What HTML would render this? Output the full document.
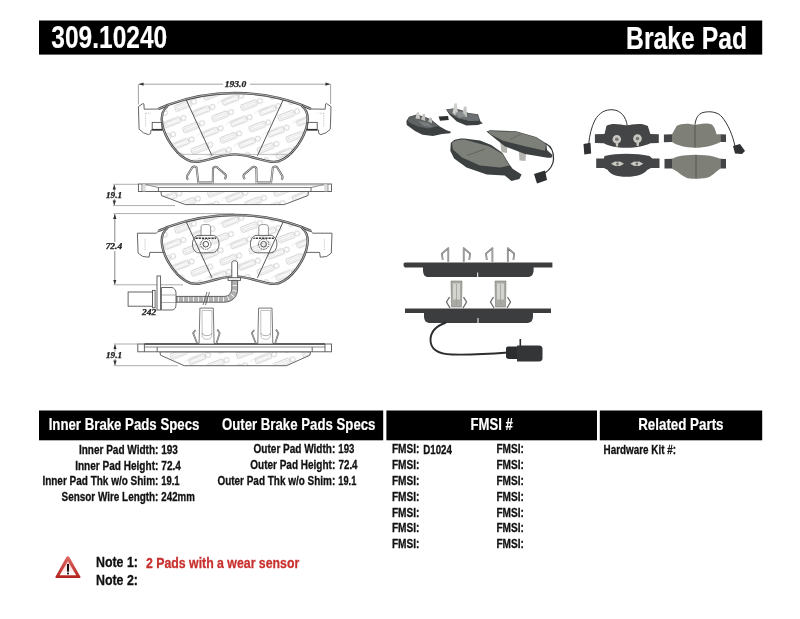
<!DOCTYPE html>
<html><head><meta charset="utf-8"><style>
html,body{margin:0;padding:0;background:#fff;width:800px;height:619px;overflow:hidden}
svg{display:block;will-change:transform}
</style></head><body>
<svg width="800" height="619" viewBox="0 0 800 619">
<rect x="39" y="20.5" width="723.2" height="34.1" fill="#000"/>
<rect x="39" y="410.5" width="344.2" height="29.8" fill="#000"/>
<rect x="386.4" y="410.5" width="210.6" height="29.8" fill="#000"/>
<rect x="599.8" y="410.5" width="162.4" height="29.8" fill="#000"/>
<defs>
<pattern id="tex" patternUnits="userSpaceOnUse" width="31" height="23" patternTransform="rotate(-21)">
<g id="logo" fill="none" stroke="#c8c8c8" stroke-width="0.85">
<rect x="0.6" y="0.6" width="16.5" height="5.6" rx="0.8"/><rect x="2.6" y="2.3" width="12.5" height="2.2" stroke="#d4d4d4" stroke-width="0.55"/>
<circle cx="20.5" cy="3.4" r="2.5"/>
<path d="M11,13.5 c2,-1.3 4,-2 5.2,-0.7 c1.3,1.3 3.3,0 4.6,-1 M21,13 l5,-1" stroke="#dedede" stroke-width="0.6"/>
</g>
<use href="#logo" x="15.5" y="11.5"/><use href="#logo" x="-15.5" y="11.5"/>
</pattern>
<marker id="ar" viewBox="0 0 6 6" refX="5.5" refY="3" markerWidth="5" markerHeight="5" orient="auto-start-reverse" markerUnits="userSpaceOnUse"><path d="M0,1 L6,3 L0,5 z" fill="#333"/></marker>
</defs>
<g fill="none" stroke="#8a8a8a" stroke-width="0.8">
<line x1="139" y1="84.2" x2="223" y2="84.2" marker-start="url(#ar)"/>
<line x1="250" y1="84.2" x2="330" y2="84.2" marker-end="url(#ar)"/>
<line x1="138.4" y1="84.2" x2="138.4" y2="104.5"/>
<line x1="330.6" y1="84.2" x2="330.6" y2="104"/>
</g>
<g transform="translate(0,0)"><path d="M167.9,105.6 C184,99.4 205,93 234.7,93 C264.4,93 285.4,99.4 301.5,105.6 C307.4,110 308.4,118 307,124.8 C305.4,134 298.4,146 291.9,152.3 C287.4,157 281.4,161.5 274.1,161.9 C267.4,162 259.4,159 253.4,157.5 C247.4,156 241.4,154.4 234.7,154.4 C228,154.4 222,156 216,157.5 C210,159 202,162 195.3,161.9 C188,161.5 182,157 177.5,152.3 C171,146 164,134 162.4,124.8 C161,118 162,110 167.9,105.6 Z" fill="url(#tex)"/><path d="M158.2,109 C162,107.5 164.5,106.3 167.9,104.9 C184,99 205,93 234.7,93 C264.4,93 285.4,99 301.5,104.9 C304.9,106.3 307.4,107.5 311.2,109" fill="none" stroke="#4a4a4a" stroke-width="2.4"/><path d="M158.2,109 C162,107.5 164.5,106.3 167.9,104.9 C184,99 205,93 234.7,93 C264.4,93 285.4,99 301.5,104.9 C304.9,106.3 307.4,107.5 311.2,109" fill="none" stroke="#c8c8c8" stroke-width="0.8"/><path d="M167.9,105.6 C162,110 161,118 162.4,124.8 C164,134 171,146 177.5,152.3 C182,157 188,161.5 195.3,161.9 C202,162 210,159 216,157.5 C222,156 228,154.4 234.7,154.4" fill="none" stroke="#4a4a4a" stroke-width="2.4"/><path d="M167.9,105.6 C162,110 161,118 162.4,124.8 C164,134 171,146 177.5,152.3 C182,157 188,161.5 195.3,161.9 C202,162 210,159 216,157.5 C222,156 228,154.4 234.7,154.4" fill="none" stroke="#c8c8c8" stroke-width="0.8"/><path d="M301.50,105.6 C307.40,110 308.40,118 307.00,124.8 C305.40,134 298.40,146 291.90,152.3 C287.40,157 281.40,161.5 274.10,161.9 C267.40,162 259.40,159 253.40,157.5 C247.40,156 241.40,154.4 234.70,154.4" fill="none" stroke="#4a4a4a" stroke-width="2.4"/><path d="M301.50,105.6 C307.40,110 308.40,118 307.00,124.8 C305.40,134 298.40,146 291.90,152.3 C287.40,157 281.40,161.5 274.10,161.9 C267.40,162 259.40,159 253.40,157.5 C247.40,156 241.40,154.4 234.70,154.4" fill="none" stroke="#c8c8c8" stroke-width="0.8"/><g stroke="#444" stroke-width="0.9"><line x1="186.3" y1="100" x2="212" y2="155.8"/><line x1="283.1" y1="100" x2="257.4" y2="155.8"/></g><line x1="178" y1="154.4" x2="291.4" y2="154.4" stroke="#999" stroke-width="0.6"/><g fill="none" stroke="#555" stroke-width="0.9">
<path d="M158.2,109 L144.2,109.2 L143.9,104 L143.1,103.4 L138.4,106.6 L139.1,129.2 L143.5,132.8 L148.5,134.6 L150.6,133.6 L151,130 L162.8,130"/>
<rect x="152.2" y="122.4" width="9.8" height="7.5"/>
<line x1="152.2" y1="129.6" x2="162.5" y2="129.6" stroke-width="1.4" stroke="#333"/>
<path d="M145.6,113.2 L145.6,127 M145.6,113.2 L151,113.2" stroke="#999" stroke-width="0.6" stroke-dasharray="1.2,1.2"/>
</g><g transform="matrix(-1,0,0,1,469.4,0)"><g fill="none" stroke="#555" stroke-width="0.9">
<path d="M158.2,109 L144.2,109.2 L143.9,104 L143.1,103.4 L138.4,106.6 L139.1,129.2 L143.5,132.8 L148.5,134.6 L150.6,133.6 L151,130 L162.8,130"/>
<rect x="152.2" y="122.4" width="9.8" height="7.5"/>
<line x1="152.2" y1="129.6" x2="162.5" y2="129.6" stroke-width="1.4" stroke="#333"/>
<path d="M145.6,113.2 L145.6,127 M145.6,113.2 L151,113.2" stroke="#999" stroke-width="0.6" stroke-dasharray="1.2,1.2"/>
</g></g></g>
<g transform="translate(0,0)"><path d="M160.9,191.5 L161.5,195.6 L185.3,204.6 L284.1,204.6 L307.9,195.6 L308.5,191.5 Z" fill="url(#tex)" stroke="#555" stroke-width="0.9"/><g fill="none" stroke="#555" stroke-width="0.9"><rect x="138.4" y="184" width="193.1" height="7.5" fill="#fff"/><line x1="142.1" y1="184" x2="142.1" y2="191.5"/><line x1="327.8" y1="184" x2="327.8" y2="191.5"/><rect x="142.3" y="184.3" width="3.4" height="7" fill="#ddd" stroke="none"/><rect x="324.2" y="184.3" width="3.4" height="7" fill="#ddd" stroke="none"/><path d="M145.9,184.6 L158.4,187.5 L311,187.5 L323.5,184.6" stroke-width="0.7"/><line x1="158.4" y1="187.5" x2="158.4" y2="191.5"/><line x1="311" y1="187.5" x2="311" y2="191.5"/><line x1="145" y1="185.3" x2="324.5" y2="185.3" stroke="#aaa" stroke-width="0.5"/></g><path d="M188,179.8 C186.8,178.5 186.6,177 187.2,175.8 L192.3,167.3 C193.3,166.3 195.5,166.3 196.6,167.6 L198.4,183.5 M198.4,182.6 L212.75,182.6 M212.75,183.5 L213,168.6 C213.5,167 215.5,166.3 217,167.2 L225.4,174.5 C226.2,175.6 226,177.4 224.6,179.2" fill="none" stroke="#555" stroke-width="2.0"/><path d="M188,179.8 C186.8,178.5 186.6,177 187.2,175.8 L192.3,167.3 C193.3,166.3 195.5,166.3 196.6,167.6 L198.4,183.5 M198.4,182.6 L212.75,182.6 M212.75,183.5 L213,168.6 C213.5,167 215.5,166.3 217,167.2 L225.4,174.5 C226.2,175.6 226,177.4 224.6,179.2" fill="none" stroke="#fff" stroke-width="0.7"/><g transform="matrix(-1,0,0,1,469.4,0)"><path d="M188,179.8 C186.8,178.5 186.6,177 187.2,175.8 L192.3,167.3 C193.3,166.3 195.5,166.3 196.6,167.6 L198.4,183.5 M198.4,182.6 L212.75,182.6 M212.75,183.5 L213,168.6 C213.5,167 215.5,166.3 217,167.2 L225.4,174.5 C226.2,175.6 226,177.4 224.6,179.2" fill="none" stroke="#555" stroke-width="2.0"/><path d="M188,179.8 C186.8,178.5 186.6,177 187.2,175.8 L192.3,167.3 C193.3,166.3 195.5,166.3 196.6,167.6 L198.4,183.5 M198.4,182.6 L212.75,182.6 M212.75,183.5 L213,168.6 C213.5,167 215.5,166.3 217,167.2 L225.4,174.5 C226.2,175.6 226,177.4 224.6,179.2" fill="none" stroke="#fff" stroke-width="0.7"/></g></g>
<g fill="none" stroke="#8a8a8a" stroke-width="0.7">
<line x1="113" y1="184.3" x2="138" y2="184.3"/><line x1="113" y1="205.6" x2="175" y2="205.6"/>
<line x1="114.3" y1="185" x2="114.3" y2="192" marker-start="url(#ar)" stroke="#555"/>
<line x1="114.3" y1="198.8" x2="114.3" y2="205" marker-end="url(#ar)" stroke="#555"/>
</g>
<g transform="translate(0,122)"><path d="M167.9,105.6 C184,99.4 205,93 234.7,93 C264.4,93 285.4,99.4 301.5,105.6 C307.4,110 308.4,118 307,124.8 C305.4,134 298.4,146 291.9,152.3 C287.4,157 281.4,161.5 274.1,161.9 C267.4,162 259.4,159 253.4,157.5 C247.4,156 241.4,154.4 234.7,154.4 C228,154.4 222,156 216,157.5 C210,159 202,162 195.3,161.9 C188,161.5 182,157 177.5,152.3 C171,146 164,134 162.4,124.8 C161,118 162,110 167.9,105.6 Z" fill="url(#tex)"/><path d="M158.2,109 C162,107.5 164.5,106.3 167.9,104.9 C184,99 205,93 234.7,93 C264.4,93 285.4,99 301.5,104.9 C304.9,106.3 307.4,107.5 311.2,109" fill="none" stroke="#4a4a4a" stroke-width="2.4"/><path d="M158.2,109 C162,107.5 164.5,106.3 167.9,104.9 C184,99 205,93 234.7,93 C264.4,93 285.4,99 301.5,104.9 C304.9,106.3 307.4,107.5 311.2,109" fill="none" stroke="#c8c8c8" stroke-width="0.8"/><path d="M167.9,105.6 C162,110 161,118 162.4,124.8 C164,134 171,146 177.5,152.3 C182,157 188,161.5 195.3,161.9 C202,162 210,159 216,157.5 C222,156 228,154.4 234.7,154.4" fill="none" stroke="#4a4a4a" stroke-width="2.4"/><path d="M167.9,105.6 C162,110 161,118 162.4,124.8 C164,134 171,146 177.5,152.3 C182,157 188,161.5 195.3,161.9 C202,162 210,159 216,157.5 C222,156 228,154.4 234.7,154.4" fill="none" stroke="#c8c8c8" stroke-width="0.8"/><path d="M301.50,105.6 C307.40,110 308.40,118 307.00,124.8 C305.40,134 298.40,146 291.90,152.3 C287.40,157 281.40,161.5 274.10,161.9 C267.40,162 259.40,159 253.40,157.5 C247.40,156 241.40,154.4 234.70,154.4" fill="none" stroke="#4a4a4a" stroke-width="2.4"/><path d="M301.50,105.6 C307.40,110 308.40,118 307.00,124.8 C305.40,134 298.40,146 291.90,152.3 C287.40,157 281.40,161.5 274.10,161.9 C267.40,162 259.40,159 253.40,157.5 C247.40,156 241.40,154.4 234.70,154.4" fill="none" stroke="#c8c8c8" stroke-width="0.8"/><g stroke="#444" stroke-width="0.9"><line x1="186.3" y1="100" x2="212" y2="155.8"/><line x1="283.1" y1="100" x2="257.4" y2="155.8"/></g><g fill="none" stroke="#555" stroke-width="0.9">
<path d="M158.2,109 C157.5,110.5 157,111 156.5,111.2 L137.4,111.2 L138.1,131.1 L142.9,134.5 L149.1,135.2 L149.8,130.4 L163.8,130.4"/>
<path d="M145,117.3 L145,128.3" stroke="#999" stroke-width="0.6" stroke-dasharray="1.2,1.2"/>
</g><g transform="matrix(-1,0,0,1,469.4,0)"><g fill="none" stroke="#555" stroke-width="0.9">
<path d="M158.2,109 C157.5,110.5 157,111 156.5,111.2 L137.4,111.2 L138.1,131.1 L142.9,134.5 L149.1,135.2 L149.8,130.4 L163.8,130.4"/>
<path d="M145,117.3 L145,128.3" stroke="#999" stroke-width="0.6" stroke-dasharray="1.2,1.2"/>
</g></g></g>
<g fill="none" stroke="#444" stroke-width="0.9">
<path d="M201,235.4 L201,227 C201,225 203,224.5 205.8,224.5 C208.6,224.5 210.6,225 210.6,227 L210.6,235.4" fill="#fff" stroke="#888"/>
<path d="M198,235.4 L213.5,235.4 C217,236 219,240 219,244 C219,249 216,252.8 212,252.8 L199,252.8 C195,252.8 192.5,249 192.5,244 C192.5,240 194.5,236 198,235.4 Z" fill="none" stroke="#555"/>
<circle cx="205.8" cy="244.2" r="5.2" stroke-dasharray="1.5,1"/>
<circle cx="205.8" cy="244.2" r="2.8"/>
<path d="M195.5,238.3 L216,238.3" stroke="#333" stroke-width="1.6" stroke-dasharray="2.2,1"/>
</g>
<g transform="matrix(-1,0,0,1,469.4,0)"><g fill="none" stroke="#444" stroke-width="0.9">
<path d="M201,235.4 L201,227 C201,225 203,224.5 205.8,224.5 C208.6,224.5 210.6,225 210.6,227 L210.6,235.4" fill="#fff" stroke="#888"/>
<path d="M198,235.4 L213.5,235.4 C217,236 219,240 219,244 C219,249 216,252.8 212,252.8 L199,252.8 C195,252.8 192.5,249 192.5,244 C192.5,240 194.5,236 198,235.4 Z" fill="none" stroke="#555"/>
<circle cx="205.8" cy="244.2" r="5.2" stroke-dasharray="1.5,1"/>
<circle cx="205.8" cy="244.2" r="2.8"/>
<path d="M195.5,238.3 L216,238.3" stroke="#333" stroke-width="1.6" stroke-dasharray="2.2,1"/>
</g></g>
<g fill="none" stroke="#8a8a8a" stroke-width="0.7">
<line x1="113.5" y1="213.6" x2="234" y2="213.6"/><line x1="113.5" y1="284.8" x2="183" y2="284.8"/>
<line x1="114.8" y1="214.3" x2="114.8" y2="242" marker-start="url(#ar)" stroke="#555"/>
<line x1="114.8" y1="251" x2="114.8" y2="284.2" marker-end="url(#ar)" stroke="#555"/>
</g>
<g stroke="#555" stroke-width="0.9">
<path d="M231.8,277.7 L231.8,263 C231.8,261.5 233,260.8 234.7,260.8 C236.4,260.8 237.6,261.5 237.6,263 L237.6,277.7" fill="#fff"/>
<rect x="228.1" y="277.7" width="12.4" height="2.7" fill="#fff"/>
<path d="M176,296.4 L224,296.4 C229,296.4 231.8,293 231.8,288 L231.8,280.4 L237.6,280.4 L237.6,289 C237.6,297 232,302.2 224,302.2 L176,302.2 Z" fill="#b0b0b0" stroke="#555"/>
<path d="M178,299.3 L223,299.3 C229,299.3 234.7,295 234.7,288 L234.7,281" fill="none" stroke="#fff" stroke-width="4.5" stroke-dasharray="0.8,4.2"/>
<rect x="128.1" y="292" width="24.4" height="14.2" fill="#fff"/>
<rect x="152.5" y="290.4" width="2.6" height="17.4" fill="#fff"/>
<rect x="157" y="276" width="3.6" height="34" fill="#fff"/>
<path d="M161.4,287.5 L172,287.5 C174,288 176,290 176,293 L176,305 C176,308 174,310 172,310 L161.4,310 Z" fill="#fff"/>
<line x1="161.4" y1="295" x2="176" y2="295" stroke="#777" stroke-width="0.6"/><line x1="161.4" y1="302.5" x2="176" y2="302.5" stroke="#777" stroke-width="0.6"/>
<line x1="203" y1="305" x2="207" y2="292" stroke="#555" stroke-width="0.8"/><line x1="205.5" y1="305" x2="209.5" y2="292" stroke="#555" stroke-width="0.8"/>
</g>
<path d="M159.9,351.8 L160.5,355.2 L184.2,365.7 L286.6,365.7 L309.9,355.2 L310.5,351.8 Z" fill="url(#tex)" stroke="#555" stroke-width="0.9"/><g fill="none" stroke="#555" stroke-width="0.9"><rect x="137.8" y="344" width="193.7" height="7.8" fill="#fff"/><line x1="144.4" y1="344" x2="144.4" y2="351.8"/><line x1="325" y1="344" x2="325" y2="351.8"/><line x1="157.2" y1="347" x2="157.2" y2="351.8"/><line x1="312.2" y1="347" x2="312.2" y2="351.8"/><line x1="144.4" y1="347" x2="325" y2="347" stroke-width="0.7"/><line x1="144.4" y1="344" x2="325" y2="344" stroke-width="1.3" stroke="#444"/></g>
<g fill="none" stroke="#555" stroke-width="0.8">
<path d="M199.1,343.4 L199.9,308.1 L213.3,308.1 L214.1,343.4" fill="#fff"/>
<path d="M202,310.5 L212,310.5 L211.8,336 C211.5,338.5 209,339.3 207,339.3 C205,339.3 202.5,338.5 202.2,336 Z" stroke="#999" stroke-width="0.6"/>
<path d="M202.2,333 C203,336.5 211,336.5 211.8,333" stroke="#777" stroke-width="0.6"/>
<path d="M195.5,329.9 L193.1,333.1 L197.1,343.2" stroke-width="1.6"/>
<path d="M195.5,329.9 L193.1,333.1 L197.1,343.2" stroke="#fff" stroke-width="0.5"/>
<path d="M217.3,329.5 L219.7,333.1 L216.5,343.2" stroke-width="1.6"/>
<path d="M217.3,329.5 L219.7,333.1 L216.5,343.2" stroke="#fff" stroke-width="0.5"/>
</g>
<g transform="translate(58.7,0)"><g fill="none" stroke="#555" stroke-width="0.8">
<path d="M199.1,343.4 L199.9,308.1 L213.3,308.1 L214.1,343.4" fill="#fff"/>
<path d="M202,310.5 L212,310.5 L211.8,336 C211.5,338.5 209,339.3 207,339.3 C205,339.3 202.5,338.5 202.2,336 Z" stroke="#999" stroke-width="0.6"/>
<path d="M202.2,333 C203,336.5 211,336.5 211.8,333" stroke="#777" stroke-width="0.6"/>
<path d="M195.5,329.9 L193.1,333.1 L197.1,343.2" stroke-width="1.6"/>
<path d="M195.5,329.9 L193.1,333.1 L197.1,343.2" stroke="#fff" stroke-width="0.5"/>
<path d="M217.3,329.5 L219.7,333.1 L216.5,343.2" stroke-width="1.6"/>
<path d="M217.3,329.5 L219.7,333.1 L216.5,343.2" stroke="#fff" stroke-width="0.5"/>
</g></g>
<g fill="none" stroke="#8a8a8a" stroke-width="0.7">
<line x1="113.7" y1="344" x2="138" y2="344"/><line x1="113.7" y1="365.7" x2="178" y2="365.7"/>
<line x1="115" y1="344.7" x2="115" y2="351.5" marker-start="url(#ar)" stroke="#555"/>
<line x1="115" y1="359" x2="115" y2="365" marker-end="url(#ar)" stroke="#555"/>
</g><g>
<path d="M627.2,125.5 C626,117 621,110.5 613,109.8 C605,109.2 599,113 595,120 C591.5,127 589.5,135 588.8,143.5" fill="none" stroke="#333" stroke-width="1"/>
<path d="M583.5,144 L590.5,142.8 L591.2,153.5 L584.3,154.6 Z" fill="#2f3132"/>
<path d="M594.9,134.3 L604.5,134 L606.5,125.7 C610,123.5 616,123.5 621,124.6 C624,125.4 629,125.4 632,124.6 C637,123.5 644,123.5 647.8,126 L650.4,134 L658.8,134.3 L658.8,143 L650.4,143.3 C645,146 637,147.8 626.5,147.8 C616,147.8 608,146 603.9,143.3 L594.9,143 Z" fill="#444547"/>
<path d="M612.5,139.2 a4.3,4.3 0 1 1 8.6,0 a4.3,4.3 0 1 1 -8.6,0 M615.5,142 L618.5,142 L618,146.5 L616,146.5 Z" fill="#c9c9c2"/>
<circle cx="616.8" cy="139.2" r="1.8" fill="#777"/>
<path d="M633.2,138.6 a4.3,4.3 0 1 1 8.6,0 a4.3,4.3 0 1 1 -8.6,0 M636.2,141.4 L639.2,141.4 L638.7,146 L636.7,146 Z" fill="#c9c9c2"/>
<circle cx="637.5" cy="138.6" r="1.8" fill="#777"/>
</g>
<g>
<path d="M596.2,158.4 L603.9,158.4 L604.5,156 C611,154.5 618,153.8 626.5,153.8 C635,153.8 642,154.5 649.5,156 L652.4,158.4 L659.5,158.4 L659.5,167.9 L651,167.9 L647.2,170 C644,174 637,176.8 626.5,176.8 C616,176.8 610,174 607.8,170 L603.9,167.9 L596.2,167.9 Z" fill="#444547"/>
<path d="M611,163.8 L615,161.5 L617.5,161.8 L620,161.5 L624,163.8 L620,166 L617.5,165.8 L615,166 Z" fill="#c9c9c2"/>
<circle cx="617.5" cy="163.8" r="1.3" fill="#666"/>
<path d="M630.3,163.8 L634.3,161.5 L636.8,161.8 L639.3,161.5 L643.3,163.8 L639.3,166 L636.8,165.8 L634.3,166 Z" fill="#c9c9c2"/>
<circle cx="636.8" cy="163.8" r="1.3" fill="#666"/>
</g>
<g>
<path d="M695,124.4 C696,118 698,114 703,112.5 C710,110.8 718,112 722,117 C728,124 733,136 735,146.4" fill="none" stroke="#333" stroke-width="1"/>
<path d="M733,146 L740,144 L745,151 L742,154 L735,153.5 Z" fill="#2f3132"/>
<path d="M663.9,134.5 L672.3,134.2 L672.3,141.9 L663.9,142.2 Z" fill="#444547"/>
<path d="M720.2,134.2 L726,134.5 L726,142 L720.2,141.9 Z" fill="#444547"/>
<path d="M672,134.2 L676.8,125.7 C680,123.8 687,123.2 691,124.2 C693,124.8 697,124.8 699,124.2 C703,123.2 709,123.2 711.7,124.4 C714,126 715.6,130 716.5,134.2 L720.5,134.2 L720.5,141.9 C716,144.5 705,147.7 695,147.7 C685,147.7 676,145 672,142 Z" fill="#7e8078"/>
<line x1="695" y1="124.6" x2="695" y2="147.6" stroke="#4a4c48" stroke-width="0.8"/>
</g>
<g>
<path d="M664.5,159 L672.3,158.8 L672.3,168.4 L664.5,168.6 Z" fill="#444547"/>
<path d="M720.2,158.8 L726,159 L726,168.6 L720.2,168.4 Z" fill="#444547"/>
<path d="M672,158.8 L676.8,156.75 C683,155.5 689,154.8 695,154.8 C702,154.8 709,155.5 714.3,156.75 L720.5,158.8 L720.5,168.4 L715.6,172.3 C713,175 709,177.4 707.9,177.4 C703,178.5 699,178.7 695,178.7 C691,178.7 688,178.4 685.9,177.4 C682,175.5 679,173.5 678.1,172.3 L672,168.4 Z" fill="#7e8078"/>
<line x1="696" y1="154.9" x2="696" y2="178.5" stroke="#4a4c48" stroke-width="0.8"/>
</g><g>
<path d="M448.3,261.8 L448.3,248.2 L441.90000000000003,253.6 L442.7,260" fill="none" stroke="#666" stroke-width="1.7" stroke-linejoin="round"/><path d="M448.3,261.8 L448.3,248.2 L441.90000000000003,253.6 L442.7,260" fill="none" stroke="#d8d8d8" stroke-width="0.6"/><path d="M463.7,261.8 L463.7,248.2 L470.09999999999997,253.6 L469.3,260" fill="none" stroke="#666" stroke-width="1.7" stroke-linejoin="round"/><path d="M463.7,261.8 L463.7,248.2 L470.09999999999997,253.6 L469.3,260" fill="none" stroke="#d8d8d8" stroke-width="0.6"/><path d="M492.4,261.8 L492.4,248.2 L486.0,253.6 L486.79999999999995,260" fill="none" stroke="#666" stroke-width="1.7" stroke-linejoin="round"/><path d="M492.4,261.8 L492.4,248.2 L486.0,253.6 L486.79999999999995,260" fill="none" stroke="#d8d8d8" stroke-width="0.6"/><path d="M507.8,261.8 L507.8,248.2 L514.2,253.6 L513.4,260" fill="none" stroke="#666" stroke-width="1.7" stroke-linejoin="round"/><path d="M507.8,261.8 L507.8,248.2 L514.2,253.6 L513.4,260" fill="none" stroke="#d8d8d8" stroke-width="0.6"/>
<path d="M403.6,263.2 L405,262.6 L552.4,262.6 L552.4,267.4 L533.6,267.4 L533.6,271 C533,275.5 531,277 527,277 L429,277 C425,277 423.5,275.5 423,271 L423,267.4 L405,267.4 L403.6,266 Z" fill="#3c3d3f"/>
<rect x="477.2" y="272.5" width="1" height="4.5" fill="#fff"/>
</g>
<g>
<g>
<path d="M450,308 L446.5,302 L449.5,297" fill="none" stroke="#6a6a6a" stroke-width="1.3"/>
<path d="M463,308 L466.5,302 L463.5,297" fill="none" stroke="#6a6a6a" stroke-width="1.3"/>
<path d="M451,281 L462,281 L461.5,307 L451.5,307 Z" fill="#a9aaa4" stroke="#7a7a76" stroke-width="0.6"/>
<rect x="453" y="283.5" width="7" height="16" fill="#d3d4cf"/>
<line x1="456.5" y1="284" x2="456.5" y2="305" stroke="#9a9b96" stroke-width="0.7"/>
</g><g>
<path d="M494,308 L490.5,302 L493.5,297" fill="none" stroke="#6a6a6a" stroke-width="1.3"/>
<path d="M507,308 L510.5,302 L507.5,297" fill="none" stroke="#6a6a6a" stroke-width="1.3"/>
<path d="M495,281 L506,281 L505.5,307 L495.5,307 Z" fill="#a9aaa4" stroke="#7a7a76" stroke-width="0.6"/>
<rect x="497" y="283.5" width="7" height="16" fill="#d3d4cf"/>
<line x1="500.5" y1="284" x2="500.5" y2="305" stroke="#9a9b96" stroke-width="0.7"/>
</g>
<path d="M405,308.6 L551,308.6 L551,313 L533,313 L533,317 C532.5,321.5 530.5,323 526,323 L431,323 C426.5,323 424.5,321.5 424,317 L424,313 L405,313 Z" fill="#3c3d3f"/>
<rect x="477.5" y="318" width="1" height="5" fill="#fff"/>
<path d="M446,322.5 C436,326 430.5,332 430.5,340 C430.5,350 438,354 452,354.5 C475,355 495,353.5 508,352.5" fill="none" stroke="#2b2d2e" stroke-width="1.9"/>
<rect x="519.5" y="339" width="1.6" height="8" fill="#2b2d2e"/>
<path d="M506,348.5 C506,347 507,346.5 509,346.5 L517,346.5 L517,359 L509,359 C507,359 506,358 506,356.5 Z" fill="#2b2d2e"/>
<path d="M517,345.5 L539,345.5 C541.5,345.5 542.5,347 542.5,349 L542.5,358 C542.5,360 541.5,361.5 539,361.5 L517,361.5 Z" fill="#333536"/>
</g>
<g>
<path d="M406.4,120.9 L409,116.75 L416.5,114.5 L424.75,116.75 L431.5,119.75 L439.75,126.5 L446.5,130.25 L451,131.75 L450.25,133.25 L442,134 L433,135.9 L422.5,134.75 L415,131 L406.75,125 Z" fill="#3d4041"/>
<path d="M407.5,120 L410,117 L416.5,115 L424.5,117.3 L431,120.2 L438.5,126 L428,128.5 L418,126.5 L409,122.5 Z" fill="#5f6363"/>
<path d="M415.5,118.5 L416.8,112.5 L419,112.2 L420,119 Z" fill="#c9cac6"/>
<path d="M421,119.5 L422.8,114 L425,114.3 L425.3,121 Z" fill="#bfc0bc"/>
<path d="M428,121.5 L429.8,117.5 L432,118 L432,123.5 Z" fill="#b9bab6"/>
<path d="M418,121 L428,123 L433,127 L424,126 Z" fill="#7a7e7f"/>
<path d="M438.6,116.5 L448,116 L448.75,120 L440,120.7 Z" fill="#2e3031"/>
</g>
<g>
<path d="M446,109.5 L454.4,108.3 L461,110 L468.6,113 L478,114.25 L480.5,121.4 L482.9,123.2 L478,125 L466.3,125.5 L456.8,121.4 L449.6,114.8 Z" fill="#3d4041"/>
<path d="M446.5,109.8 L454.4,108.8 L468,113.5 L477.5,114.8 L479.5,120.5 L470,121 L458,118 L450,113.5 Z" fill="#5f6363"/>
<path d="M446.5,109.8 L454.4,108.8 L468,113.5 L477.5,114.8 L479.5,120.5 L470,121 L458,118 L450,113.5 Z" fill="#6c7072"/>
<path d="M452.5,113 L454.5,103.5 L456.8,103.3 L458,113.5 L455,115 Z" fill="#cfd0cc"/>
<path d="M462,116 L464,106.5 L466.5,106.8 L467,117 Z" fill="#c4c5c1"/>
<path d="M455,113 L461,111 L466,116 L459,118 Z" fill="#8a8e8f"/>
</g>
<g>
<path d="M450.75,142.9 L454.1,140 C457,138.8 460,138.3 464.25,138.4 L480,140.6 L491.25,145.1 L502.5,153 L509.25,164.25 L512.6,168.75 L521.6,174.4 L519.4,178.9 L511.5,181.1 L504.75,175.5 L486.75,174.4 L466.5,167.6 L454.1,158.6 L450.3,150.75 Z" fill="#3d4041"/>
<path d="M451.9,142.9 C455,140.5 459,139.5 464.25,139.5 L489,146.25 L502.5,154.1 L509.25,165.4 L500.25,167.6 L480,165.4 L462,157.5 L453,149.6 Z" fill="#7d8079"/>
<path d="M467,155.5 L485,149" stroke="#55584f" stroke-width="0.7"/>
</g>
<g>
<path d="M500,141 L507.5,142.5 L507,153 L501.5,152 Z" fill="#b5b6b1"/>
<path d="M518.75,148.75 L526.25,150.5 L525.5,161 L519.5,160.5 Z" fill="#b5b6b1"/>
<path d="M486.5,131.5 L490,130.2 L516,131.2 L536,137 L546.4,143.5 L547,150 L552.5,155 L551.5,157.8 L547.5,157.8 L525,154.1 L504.75,146.25 L490,134.5 Z" fill="#3d4041"/>
<path d="M488,131 L516,131.8 L536,137.5 L546,144 L545,150.75 L525,146.25 L502.5,140.6 L490,133.9 Z" fill="#7d8079"/>
<path d="M510,139.5 L521,134" stroke="#55584f" stroke-width="0.6"/>
<path d="M545.5,143.5 C551,146 553.8,152 553.5,159.5 C553.2,165 550,169.5 545,173" fill="none" stroke="#2b2d2e" stroke-width="1.2"/>
<path d="M534,174 L545,170.5 L547,180 L537,183.5 Z" fill="#2e3031"/>
</g>
<defs><linearGradient id="tg" x1="0" y1="0" x2="0" y2="1"><stop offset="0" stop-color="#e06a66"/><stop offset="1" stop-color="#b3241f"/></linearGradient>
<linearGradient id="tw" x1="0" y1="0" x2="0" y2="1"><stop offset="0" stop-color="#f6c9c6"/><stop offset="1" stop-color="#fff"/></linearGradient></defs>
<path d="M67.85,556.2 C68.6,556.2 69.1,556.8 69.6,557.6 L80.3,576.4 C80.8,577.3 80.4,577.9 79.4,577.9 L56.5,577.9 C55.5,577.9 55.1,577.3 55.6,576.4 L66.1,557.6 C66.6,556.8 67.1,556.2 67.85,556.2 Z" fill="url(#tg)"/>
<path d="M67.9,561.2 L76.2,575.3 L59.6,575.3 Z" fill="url(#tw)"/>
<rect x="67" y="564" width="2" height="7.6" fill="#111"/>
<rect x="67.1" y="572.6" width="1.8" height="1.8" fill="#111"/>
<text x="51.32" y="47.5" font-family="Liberation Sans" font-weight="bold" font-style="normal" font-size="31.5" fill="#fff" textLength="115.88" lengthAdjust="spacingAndGlyphs" stroke="#fff" stroke-width="0.2">309.10240</text>
<text x="626.11" y="48.8" font-family="Liberation Sans" font-weight="bold" font-style="normal" font-size="31" fill="#fff" textLength="120.90" lengthAdjust="spacingAndGlyphs" stroke="#fff" stroke-width="0.2">Brake Pad</text>
<text x="48.69" y="429.6" font-family="Liberation Sans" font-weight="bold" font-style="normal" font-size="16.3" fill="#fff" textLength="150.68" lengthAdjust="spacingAndGlyphs" stroke="#fff" stroke-width="0.2">Inner Brake Pads Specs</text>
<text x="221.89" y="429.8" font-family="Liberation Sans" font-weight="bold" font-style="normal" font-size="16.3" fill="#fff" textLength="153.57" lengthAdjust="spacingAndGlyphs" stroke="#fff" stroke-width="0.2">Outer Brake Pads Specs</text>
<text x="470.50" y="429.6" font-family="Liberation Sans" font-weight="bold" font-style="normal" font-size="16.3" fill="#fff" textLength="42.22" lengthAdjust="spacingAndGlyphs" stroke="#fff" stroke-width="0.2">FMSI #</text>
<text x="638.18" y="429.6" font-family="Liberation Sans" font-weight="bold" font-style="normal" font-size="16.3" fill="#fff" textLength="85.36" lengthAdjust="spacingAndGlyphs" stroke="#fff" stroke-width="0.2">Related Parts</text>
<text x="78.89" y="453.7" font-family="Liberation Sans" font-weight="bold" font-style="normal" font-size="12.3" fill="#111" textLength="79.49" lengthAdjust="spacingAndGlyphs" stroke="#111" stroke-width="0.3">Inner Pad Width:</text>
<text x="75.14" y="469.5" font-family="Liberation Sans" font-weight="bold" font-style="normal" font-size="12.3" fill="#111" textLength="83.22" lengthAdjust="spacingAndGlyphs" stroke="#111" stroke-width="0.3">Inner Pad Height:</text>
<text x="42.39" y="485.4" font-family="Liberation Sans" font-weight="bold" font-style="normal" font-size="12.3" fill="#111" textLength="115.96" lengthAdjust="spacingAndGlyphs" stroke="#111" stroke-width="0.3">Inner Pad Thk w/o Shim:</text>
<text x="61.60" y="501.2" font-family="Liberation Sans" font-weight="bold" font-style="normal" font-size="12.3" fill="#111" textLength="96.82" lengthAdjust="spacingAndGlyphs" stroke="#111" stroke-width="0.3">Sensor Wire Length:</text>
<text x="161.14" y="453.7" font-family="Liberation Sans" font-weight="bold" font-style="normal" font-size="12.3" fill="#111" textLength="16.79" lengthAdjust="spacingAndGlyphs" stroke="#111" stroke-width="0.3">193</text>
<text x="161.34" y="469.5" font-family="Liberation Sans" font-weight="bold" font-style="normal" font-size="12.3" fill="#111" textLength="19.61" lengthAdjust="spacingAndGlyphs" stroke="#111" stroke-width="0.3">72.4</text>
<text x="161.17" y="485.4" font-family="Liberation Sans" font-weight="bold" font-style="normal" font-size="12.3" fill="#111" textLength="18.47" lengthAdjust="spacingAndGlyphs" stroke="#111" stroke-width="0.3">19.1</text>
<text x="161.36" y="501.2" font-family="Liberation Sans" font-weight="bold" font-style="normal" font-size="12.3" fill="#111" textLength="33.40" lengthAdjust="spacingAndGlyphs" stroke="#111" stroke-width="0.3">242mm</text>
<text x="253.59" y="453.2" font-family="Liberation Sans" font-weight="bold" font-style="normal" font-size="12.3" fill="#111" textLength="81.67" lengthAdjust="spacingAndGlyphs" stroke="#111" stroke-width="0.3">Outer Pad Width:</text>
<text x="250.29" y="469.3" font-family="Liberation Sans" font-weight="bold" font-style="normal" font-size="12.3" fill="#111" textLength="84.94" lengthAdjust="spacingAndGlyphs" stroke="#111" stroke-width="0.3">Outer Pad Height:</text>
<text x="217.40" y="484.8" font-family="Liberation Sans" font-weight="bold" font-style="normal" font-size="12.3" fill="#111" textLength="117.84" lengthAdjust="spacingAndGlyphs" stroke="#111" stroke-width="0.3">Outer Pad Thk w/o Shim:</text>
<text x="338.31" y="453.2" font-family="Liberation Sans" font-weight="bold" font-style="normal" font-size="12.3" fill="#111" textLength="16.10" lengthAdjust="spacingAndGlyphs" stroke="#111" stroke-width="0.3">193</text>
<text x="338.50" y="469.3" font-family="Liberation Sans" font-weight="bold" font-style="normal" font-size="12.3" fill="#111" textLength="19.05" lengthAdjust="spacingAndGlyphs" stroke="#111" stroke-width="0.3">72.4</text>
<text x="338.34" y="484.8" font-family="Liberation Sans" font-weight="bold" font-style="normal" font-size="12.3" fill="#111" textLength="18.00" lengthAdjust="spacingAndGlyphs" stroke="#111" stroke-width="0.3">19.1</text>
<text x="423.20" y="453.5" font-family="Liberation Sans" font-weight="bold" font-style="normal" font-size="12.3" fill="#111" textLength="28.79" lengthAdjust="spacingAndGlyphs" stroke="#111" stroke-width="0.3">D1024</text>
<text x="603.60" y="454.2" font-family="Liberation Sans" font-weight="bold" font-style="normal" font-size="12.3" fill="#111" textLength="72.37" lengthAdjust="spacingAndGlyphs" stroke="#111" stroke-width="0.3">Hardware Kit #:</text>
<text x="96.03" y="567" font-family="Liberation Sans" font-weight="bold" font-style="normal" font-size="14.2" fill="#111" textLength="41.92" lengthAdjust="spacingAndGlyphs" stroke="#111" stroke-width="0.3">Note 1:</text>
<text x="96.03" y="585.1" font-family="Liberation Sans" font-weight="bold" font-style="normal" font-size="14.2" fill="#111" textLength="41.92" lengthAdjust="spacingAndGlyphs" stroke="#111" stroke-width="0.3">Note 2:</text>
<text x="145.97" y="568.3" font-family="Liberation Sans" font-weight="bold" font-style="normal" font-size="14.3" fill="#c8302f" textLength="153.24" lengthAdjust="spacingAndGlyphs" stroke="#c8302f" stroke-width="0.3">2 Pads with a wear sensor</text>
<text x="224.67" y="86.5" font-family="Liberation Serif" font-weight="bold" font-style="italic" font-size="7.2" fill="#222" textLength="21.57" lengthAdjust="spacingAndGlyphs" stroke="#222" stroke-width="0.25">193.0</text>
<text x="105.98" y="197.7" font-family="Liberation Serif" font-weight="bold" font-style="italic" font-size="7.2" fill="#222" textLength="16.09" lengthAdjust="spacingAndGlyphs" stroke="#222" stroke-width="0.25">19.1</text>
<text x="105.67" y="249" font-family="Liberation Serif" font-weight="bold" font-style="italic" font-size="7.2" fill="#222" textLength="16.46" lengthAdjust="spacingAndGlyphs" stroke="#222" stroke-width="0.25">72.4</text>
<text x="142.00" y="315" font-family="Liberation Serif" font-weight="bold" font-style="italic" font-size="7.2" fill="#222" textLength="14.07" lengthAdjust="spacingAndGlyphs" stroke="#222" stroke-width="0.25">242</text>
<text x="105.98" y="357.5" font-family="Liberation Serif" font-weight="bold" font-style="italic" font-size="7.2" fill="#222" textLength="16.09" lengthAdjust="spacingAndGlyphs" stroke="#222" stroke-width="0.25">19.1</text>
<text x="391.88" y="453.0" font-family="Liberation Sans" font-weight="bold" font-style="normal" font-size="12.3" fill="#111" textLength="27.52" lengthAdjust="spacingAndGlyphs" stroke="#111" stroke-width="0.3">FMSI:</text>
<text x="496.39" y="453.0" font-family="Liberation Sans" font-weight="bold" font-style="normal" font-size="12.3" fill="#111" textLength="27.41" lengthAdjust="spacingAndGlyphs" stroke="#111" stroke-width="0.3">FMSI:</text>
<text x="391.88" y="469.1" font-family="Liberation Sans" font-weight="bold" font-style="normal" font-size="12.3" fill="#111" textLength="27.52" lengthAdjust="spacingAndGlyphs" stroke="#111" stroke-width="0.3">FMSI:</text>
<text x="496.39" y="469.1" font-family="Liberation Sans" font-weight="bold" font-style="normal" font-size="12.3" fill="#111" textLength="27.41" lengthAdjust="spacingAndGlyphs" stroke="#111" stroke-width="0.3">FMSI:</text>
<text x="391.88" y="485" font-family="Liberation Sans" font-weight="bold" font-style="normal" font-size="12.3" fill="#111" textLength="27.52" lengthAdjust="spacingAndGlyphs" stroke="#111" stroke-width="0.3">FMSI:</text>
<text x="496.39" y="485" font-family="Liberation Sans" font-weight="bold" font-style="normal" font-size="12.3" fill="#111" textLength="27.41" lengthAdjust="spacingAndGlyphs" stroke="#111" stroke-width="0.3">FMSI:</text>
<text x="391.88" y="501" font-family="Liberation Sans" font-weight="bold" font-style="normal" font-size="12.3" fill="#111" textLength="27.52" lengthAdjust="spacingAndGlyphs" stroke="#111" stroke-width="0.3">FMSI:</text>
<text x="496.39" y="501" font-family="Liberation Sans" font-weight="bold" font-style="normal" font-size="12.3" fill="#111" textLength="27.41" lengthAdjust="spacingAndGlyphs" stroke="#111" stroke-width="0.3">FMSI:</text>
<text x="391.88" y="516.7" font-family="Liberation Sans" font-weight="bold" font-style="normal" font-size="12.3" fill="#111" textLength="27.52" lengthAdjust="spacingAndGlyphs" stroke="#111" stroke-width="0.3">FMSI:</text>
<text x="496.39" y="516.7" font-family="Liberation Sans" font-weight="bold" font-style="normal" font-size="12.3" fill="#111" textLength="27.41" lengthAdjust="spacingAndGlyphs" stroke="#111" stroke-width="0.3">FMSI:</text>
<text x="391.88" y="532.4" font-family="Liberation Sans" font-weight="bold" font-style="normal" font-size="12.3" fill="#111" textLength="27.52" lengthAdjust="spacingAndGlyphs" stroke="#111" stroke-width="0.3">FMSI:</text>
<text x="496.39" y="532.4" font-family="Liberation Sans" font-weight="bold" font-style="normal" font-size="12.3" fill="#111" textLength="27.41" lengthAdjust="spacingAndGlyphs" stroke="#111" stroke-width="0.3">FMSI:</text>
<text x="391.88" y="548.2" font-family="Liberation Sans" font-weight="bold" font-style="normal" font-size="12.3" fill="#111" textLength="27.52" lengthAdjust="spacingAndGlyphs" stroke="#111" stroke-width="0.3">FMSI:</text>
<text x="496.39" y="548.2" font-family="Liberation Sans" font-weight="bold" font-style="normal" font-size="12.3" fill="#111" textLength="27.41" lengthAdjust="spacingAndGlyphs" stroke="#111" stroke-width="0.3">FMSI:</text>
</svg>
</body></html>
